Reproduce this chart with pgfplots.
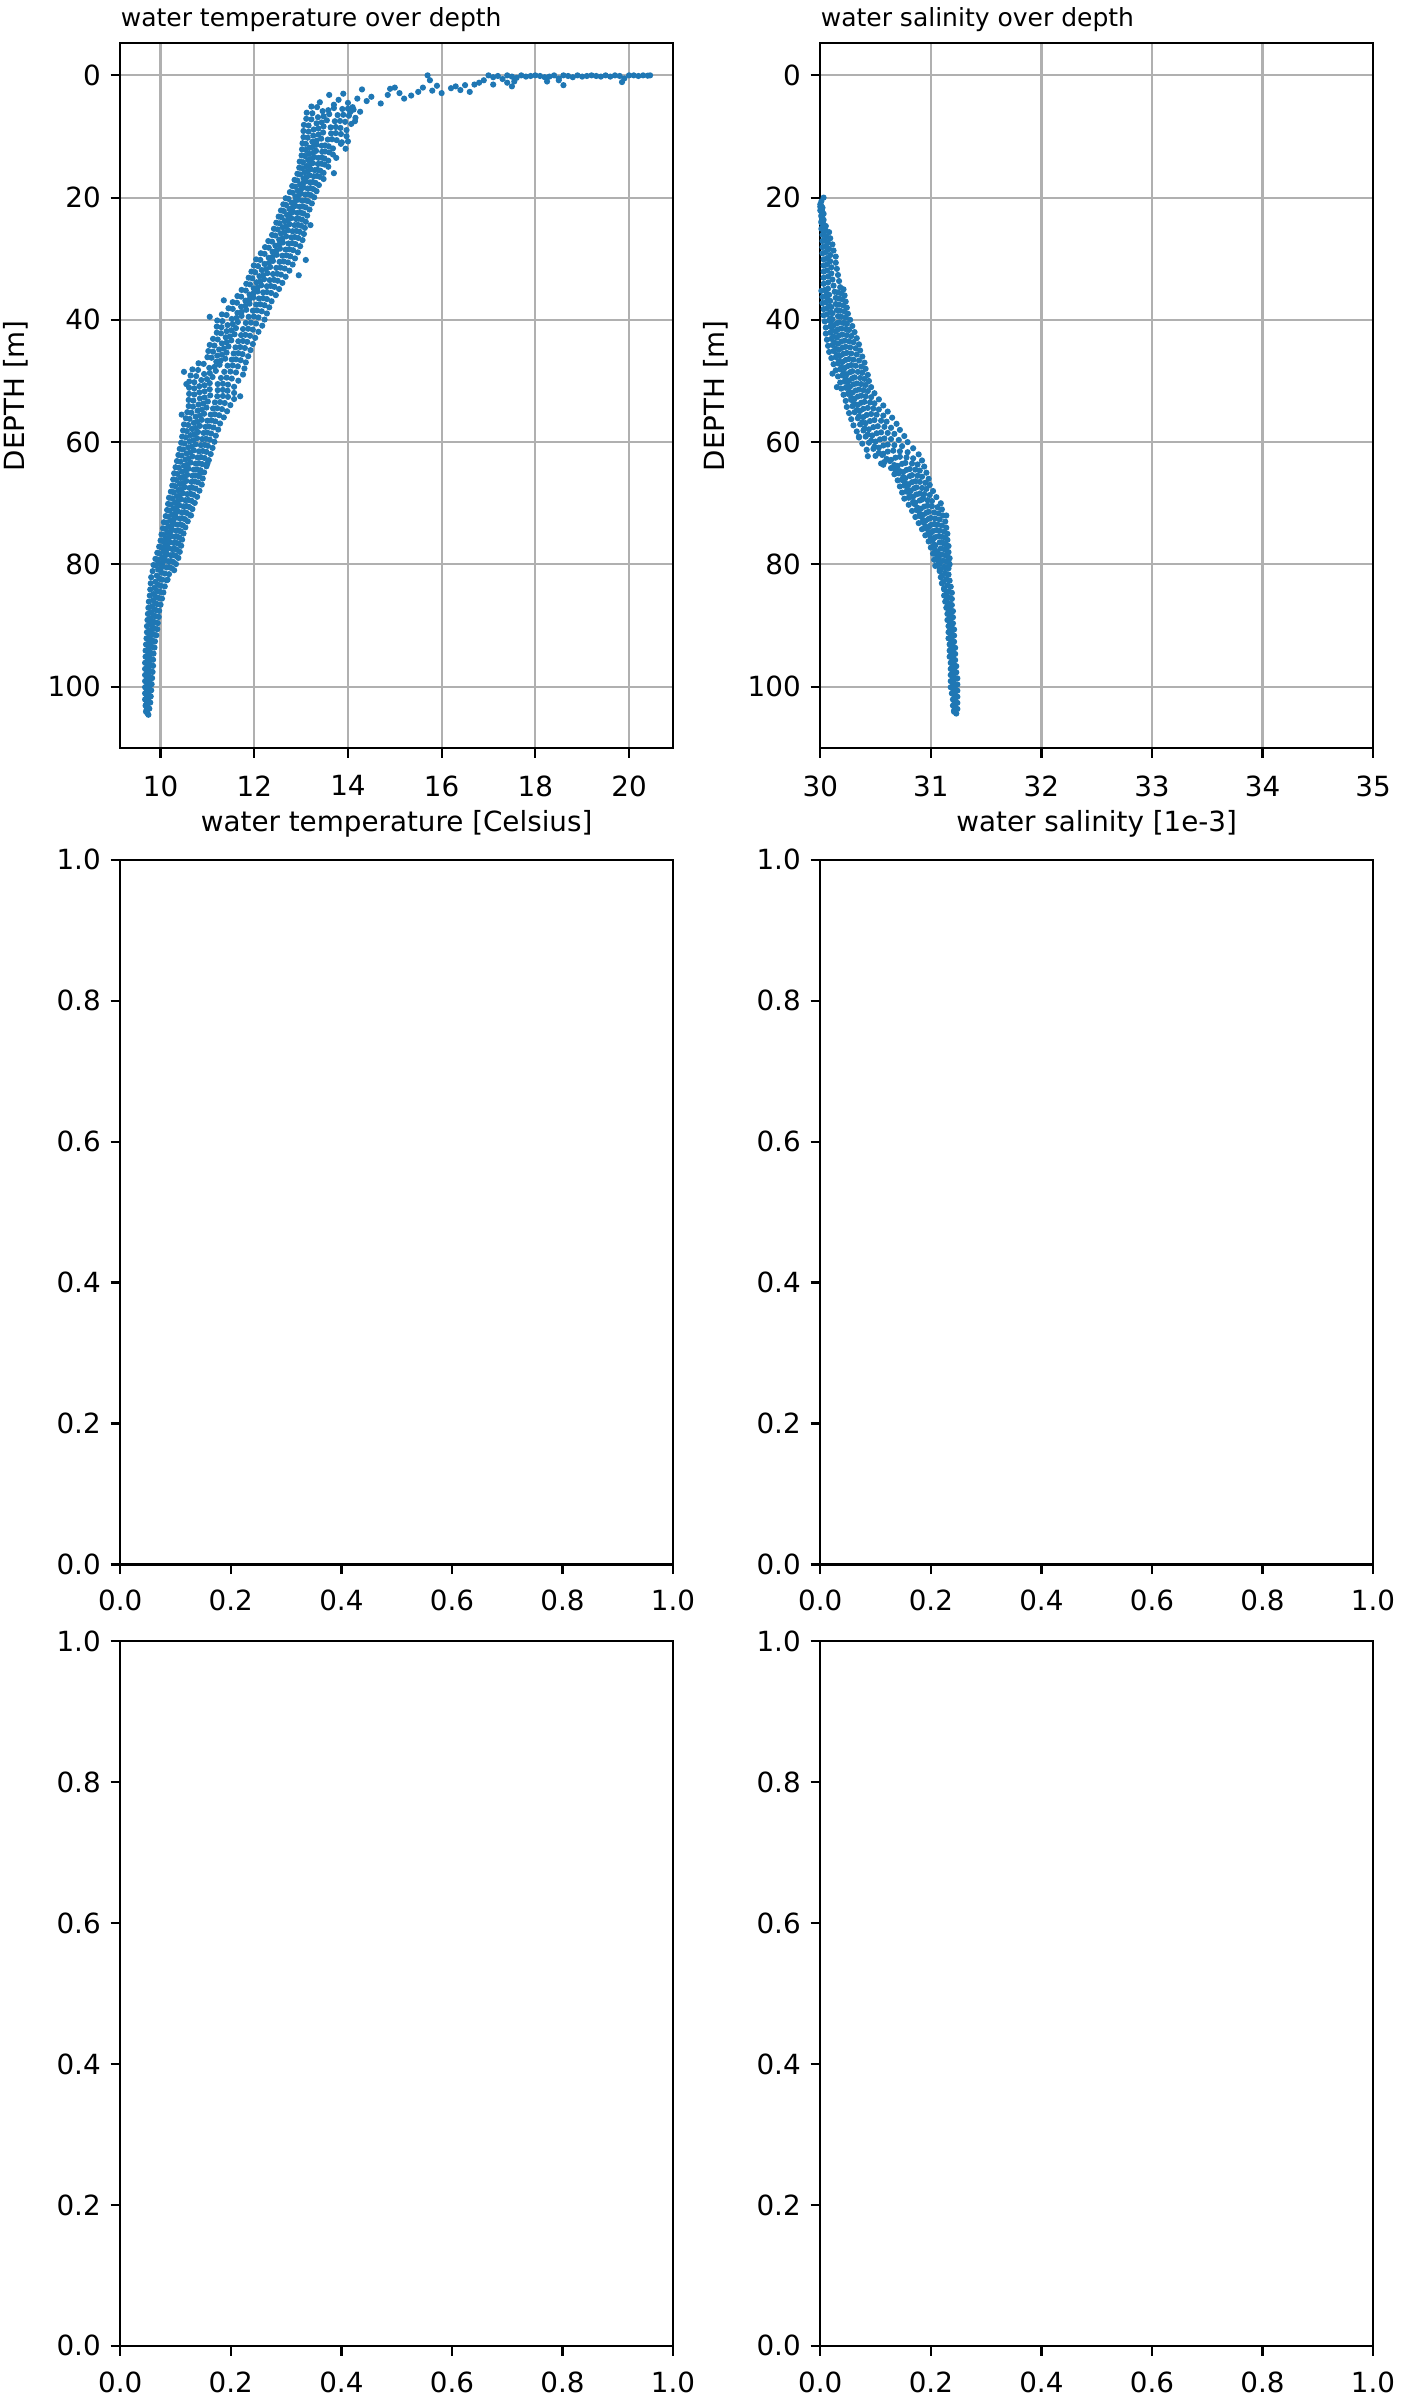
\documentclass[border=0pt]{standalone}
\usepackage{fontspec}
\setmainfont{DejaVu Sans}
\usepackage{pgfplots}
\pgfplotsset{compat=1.18}
\definecolor{mplblue}{HTML}{1F77B4}
\definecolor{gridgray}{HTML}{B0B0B0}
\pgfplotsset{
 base/.style={
  scale only axis, width=199pt, height=253.7pt,
  axis line style={line width=0.8pt, black},
  tick align=outside, tick pos=left,
  major tick length=3.5pt,
  every tick/.style={black, line width=0.8pt},
  tick label style={font=\fontsize{10}{12}\selectfont},
  label style={font=\fontsize{10}{12}\selectfont},
  /pgf/number format/assume math mode=true,
  anchor=north west,
 },
 depth/.style={base, y dir=reverse, ymin=-5.24, ymax=110.05, ytick={0,20,40,60,80,100},
  xticklabel style={yshift=-2.9pt}, xlabel style={yshift=2pt},
  grid=major, major grid style={gridgray, line width=0.8pt}, ylabel={DEPTH [m]},
  every axis title/.style={at={(0,1)}, anchor=base west, yshift=6pt, inner sep=0pt, font=\fontsize{9}{11}\selectfont}},
 empty/.style={base, xmin=0,xmax=1,ymin=0,ymax=1, xtick={0,0.2,0.4,0.6,0.8,1}, ytick={0,0.2,0.4,0.6,0.8,1},
  xticklabel style={yshift=-2.2pt},
  /pgf/number format/fixed, /pgf/number format/fixed zerofill, /pgf/number format/precision=1},
 dots/.style={only marks, color=mplblue, mark=*, mark size=0.9pt, mark options={draw=none, fill=mplblue}},
}
\begin{document}
\begin{tikzpicture}
\path[use as bounding box, fill=white] (0,0) rectangle (504pt,-864pt);
\begin{axis}[depth, at={(43.3pt,-15.6pt)}, xmin=9.14, xmax=20.94, xtick={10,12,14,16,18,20},
  xlabel={water temperature [Celsius]}, title={water temperature over depth}]
\addplot[dots] coordinates {
(17.0,0.0) (17.2,0.1) (17.4,0.0) (17.5,0.2) (17.7,0.0) (17.9,0.1) (18.0,0.0) (18.2,0.3) (18.4,0.0) (18.5,0.5) (18.7,0.1) (18.9,0.0) (19.0,0.2) (19.2,0.0) (19.3,0.1) (19.5,0.0) (19.6,0.2) (19.7,0.0) (19.9,0.5) (20.1,0.0) (20.2,0.1) (20.3,0.0) (20.4,0.05) (20.45,0.0)
(17.1,0.3) (17.3,0.6) (17.6,0.4) (17.8,0.2) (18.1,0.1) (18.3,0.2) (18.6,0.0) (18.8,0.3) (19.1,0.1) (19.4,0.2) (19.8,0.1) (20.0,0.0)
(17.4,1.2) (17.5,1.8) (17.55,1.0) (17.1,1.5) (16.9,0.8) (18.25,1.0) (18.5,0.8) (18.6,1.6) (19.85,1.1)
(15.7,0.0) (15.75,0.8) (15.8,2.5) (15.9,1.7) (16.0,2.9) (16.2,2.1) (16.4,2.4) (16.5,1.6) (16.6,2.7) (16.7,1.5) (16.8,1.2) (16.3,1.8)
(14.3,2.3) (14.5,3.5) (14.7,4.6) (14.85,3.2) (14.9,2.2) (15.0,2.0) (15.2,3.8) (15.35,3.3) (15.5,2.7) (15.6,2.0) (15.1,2.9) (14.4,4.2)
(13.6,3.2) (13.8,4.0) (14.0,4.5) (14.2,3.8) (13.9,3.0) (13.4,4.4) (14.1,5.2) (13.7,4.8)
(13.22,5.1) (13.70,5.35) (14.12,5.6) (13.46,5.85) (13.88,5.5)
(13.12,6.1) (13.60,6.35) (14.02,6.6) (13.36,6.85) (13.78,6.5)
(13.11,7.1) (13.55,7.35) (13.94,7.6) (13.33,7.85) (13.72,7.5)
(13.06,8.1) (13.48,8.35) (13.84,8.6) (13.27,8.85) (13.63,8.5)
(13.05,9.1) (13.47,9.35) (13.85,9.6) (13.26,9.85) (13.64,9.5)
(13.05,10.1) (13.43,10.35) (13.76,10.6) (13.24,10.85) (13.57,10.5)
(13.03,11.1) (13.33,11.35) (13.59,11.6) (13.18,11.85) (13.44,11.5)
(13.02,12.1) (13.32,12.35) (13.60,12.6) (13.17,12.85) (13.45,12.5)
(13.01,13.1) (13.28,13.35) (13.50,13.6) (13.15,13.85) (13.37,13.5)
(12.97,14.1) (13.25,14.35) (13.50,14.6) (13.11,14.85) (13.36,14.5)
(12.96,15.1) (13.20,15.35) (13.41,15.6) (13.08,15.85) (13.29,15.5)
(12.92,16.1) (13.18,16.35) (13.40,16.6) (13.05,16.85) (13.27,16.5)
(12.86,17.1) (13.10,17.35) (13.31,17.6) (12.98,17.85) (13.19,17.5)
(12.81,18.1) (13.05,18.35) (13.26,18.6) (12.93,18.85) (13.14,18.5)
(12.76,19.1) (13.00,19.35) (13.21,19.6) (12.88,19.85) (13.09,19.5)
(12.67,20.1) (12.93,20.35) (13.15,20.6) (12.80,20.85) (13.02,20.5)
(12.62,21.1) (12.88,21.35) (13.10,21.6) (12.75,21.85) (12.97,21.5)
(12.57,22.1) (12.83,22.35) (13.05,22.6) (12.70,22.85) (12.92,22.5)
(12.52,23.1) (12.79,23.35) (13.02,23.6) (12.65,23.85) (12.89,23.5)
(12.47,24.1) (12.75,24.35) (13.00,24.6) (12.61,24.85) (12.86,24.5)
(12.42,25.1) (12.72,25.35) (12.97,25.6) (12.57,25.85) (12.82,25.5)
(12.38,26.1) (12.68,26.35) (12.94,26.6) (12.53,26.85) (12.79,26.5)
(12.30,27.1) (12.61,27.35) (12.88,27.6) (12.45,27.85) (12.73,27.5)
(12.23,28.1) (12.55,28.35) (12.83,28.6) (12.39,28.85) (12.67,28.5)
(12.14,29.1) (12.48,29.35) (12.77,29.6) (12.31,29.85) (12.60,29.5)
(12.04,30.1) (12.40,30.35) (12.72,30.6) (12.22,30.85) (12.54,30.5)
(11.99,31.1) (12.34,31.35) (12.65,31.6) (12.16,31.85) (12.47,31.5)
(11.94,32.1) (12.28,32.35) (12.57,32.6) (12.11,32.85) (12.40,32.5)
(11.88,33.1) (12.21,33.35) (12.50,33.6) (12.05,33.85) (12.33,33.5)
(11.83,34.1) (12.15,34.35) (12.43,34.6) (11.99,34.85) (12.27,34.5)
(11.73,35.1) (12.07,35.35) (12.36,35.6) (11.90,35.85) (12.19,35.5)
(11.64,36.1) (11.98,36.35) (12.27,36.6) (11.81,36.85) (12.10,36.5)
(11.54,37.1) (11.90,37.35) (12.22,37.6) (11.72,37.85) (12.04,37.5)
(11.45,38.1) (11.83,38.35) (12.16,38.6) (11.64,38.85) (11.97,38.5)
(11.31,39.1) (11.73,39.35) (12.09,39.6) (11.52,39.85) (11.88,39.5)
(11.21,40.1) (11.65,40.35) (12.04,40.6) (11.43,40.85) (11.82,40.5)
(11.20,41.1) (11.61,41.35) (11.97,41.6) (11.41,41.85) (11.76,41.5)
(11.20,42.1) (11.58,42.35) (11.91,42.6) (11.39,42.85) (11.72,42.5)
(11.12,43.1) (11.51,43.35) (11.85,43.6) (11.31,43.85) (11.66,43.5)
(11.05,44.1) (11.45,44.35) (11.80,44.6) (11.25,44.85) (11.60,44.5)
(11.02,45.1) (11.41,45.35) (11.75,45.6) (11.21,45.85) (11.56,45.5)
(11.00,46.1) (11.38,46.35) (11.71,46.6) (11.19,46.85) (11.52,46.5)
(10.81,47.1) (11.26,47.35) (11.65,47.6) (11.04,47.85) (11.43,47.5)
(10.68,48.1) (11.18,48.35) (11.61,48.6) (10.93,48.85) (11.36,48.5)
(10.64,49.1) (11.11,49.35) (11.52,49.6) (10.87,49.85) (11.29,49.5)
(10.61,50.1) (11.05,50.35) (11.44,50.6) (10.83,50.85) (11.22,50.5)
(10.61,51.1) (11.05,51.35) (11.43,51.6) (10.83,51.85) (11.22,51.5)
(10.61,52.1) (11.06,52.35) (11.44,52.6) (10.84,52.85) (11.21,52.5)
(10.60,53.1) (11.01,53.35) (11.37,53.6) (10.81,53.85) (11.16,53.5)
(10.60,54.1) (10.98,54.35) (11.31,54.6) (10.79,54.85) (11.12,54.5)
(10.57,55.1) (10.93,55.35) (11.25,55.6) (10.75,55.85) (11.07,55.5)
(10.54,56.1) (10.88,56.35) (11.17,56.6) (10.71,56.85) (11.00,56.5)
(10.50,57.1) (10.84,57.35) (11.13,57.6) (10.67,57.85) (10.96,57.5)
(10.48,58.1) (10.80,58.35) (11.08,58.6) (10.64,58.85) (10.92,58.5)
(10.46,59.1) (10.78,59.35) (11.05,59.6) (10.62,59.85) (10.89,59.5)
(10.44,60.1) (10.75,60.35) (11.01,60.6) (10.59,60.85) (10.86,60.5)
(10.41,61.1) (10.71,61.35) (10.98,61.6) (10.56,61.85) (10.82,61.5)
(10.38,62.1) (10.68,62.35) (10.94,62.6) (10.53,62.85) (10.79,62.5)
(10.35,63.1) (10.64,63.35) (10.89,63.6) (10.50,63.85) (10.75,63.5)
(10.32,64.1) (10.60,64.35) (10.85,64.6) (10.46,64.85) (10.71,64.5)
(10.29,65.1) (10.57,65.35) (10.82,65.6) (10.43,65.85) (10.68,65.5)
(10.27,66.1) (10.55,66.35) (10.80,66.6) (10.41,66.85) (10.66,66.5)
(10.25,67.1) (10.52,67.35) (10.75,67.6) (10.38,67.85) (10.62,67.5)
(10.22,68.1) (10.48,68.35) (10.70,68.6) (10.35,68.85) (10.57,68.5)
(10.18,69.1) (10.44,69.35) (10.66,69.6) (10.31,69.85) (10.53,69.5)
(10.16,70.1) (10.40,70.35) (10.61,70.6) (10.28,70.85) (10.49,70.5)
(10.14,71.1) (10.37,71.35) (10.56,71.6) (10.25,71.85) (10.45,71.5)
(10.11,72.1) (10.33,72.35) (10.52,72.6) (10.22,72.85) (10.41,72.5)
(10.07,73.1) (10.29,73.35) (10.47,73.6) (10.18,73.85) (10.36,73.5)
(10.05,74.1) (10.25,74.35) (10.43,74.6) (10.15,74.85) (10.33,74.5)
(10.02,75.1) (10.23,75.35) (10.40,75.6) (10.12,75.85) (10.30,75.5)
(10.00,76.1) (10.20,76.35) (10.38,76.6) (10.10,76.85) (10.28,76.5)
(9.97,77.1) (10.17,77.35) (10.35,77.6) (10.07,77.85) (10.25,77.5)
(9.93,78.1) (10.14,78.35) (10.32,78.6) (10.04,78.85) (10.22,78.5)
(9.89,79.1) (10.10,79.35) (10.27,79.6) (9.99,79.85) (10.17,79.5)
(9.85,80.1) (10.05,80.35) (10.23,80.6) (9.95,80.85) (10.13,80.5)
(9.83,81.1) (10.02,81.35) (10.18,81.6) (9.92,81.85) (10.09,81.5)
(9.80,82.1) (9.98,82.35) (10.13,82.6) (9.89,82.85) (10.04,82.5)
(9.79,83.1) (9.95,83.35) (10.09,83.6) (9.87,83.85) (10.01,83.5)
(9.78,84.1) (9.93,84.35) (10.06,84.6) (9.85,84.85) (9.99,84.5)
(9.77,85.1) (9.91,85.35) (10.03,85.6) (9.84,85.85) (9.96,85.5)
(9.75,86.1) (9.89,86.35) (10.00,86.6) (9.82,86.85) (9.93,86.5)
(9.74,87.1) (9.87,87.35) (9.97,87.6) (9.80,87.85) (9.91,87.5)
(9.73,88.1) (9.85,88.35) (9.96,88.6) (9.79,88.85) (9.90,88.5)
(9.72,89.1) (9.84,89.35) (9.94,89.6) (9.78,89.85) (9.88,89.5)
(9.71,90.1) (9.83,90.35) (9.93,90.6) (9.77,90.85) (9.87,90.5)
(9.71,91.1) (9.82,91.35) (9.91,91.6) (9.76,91.85) (9.86,91.5)
(9.70,92.1) (9.80,92.35) (9.88,92.6) (9.75,92.85) (9.83,92.5)
(9.69,93.1) (9.79,93.35) (9.87,93.6) (9.74,93.85) (9.82,93.5)
(9.68,94.1) (9.77,94.35) (9.85,94.6) (9.73,94.85) (9.80,94.5)
(9.68,95.1) (9.76,95.35) (9.84,95.6) (9.72,95.85) (9.80,95.5)
(9.67,96.1) (9.76,96.35) (9.84,96.6) (9.72,96.85) (9.79,96.5)
(9.67,97.1) (9.75,97.35) (9.83,97.6) (9.71,97.85) (9.79,97.5)
(9.67,98.1) (9.75,98.35) (9.82,98.6) (9.71,98.85) (9.78,98.5)
(9.67,99.1) (9.75,99.35) (9.81,99.6) (9.71,99.85) (9.77,99.5)
(9.67,100.1) (9.74,100.35) (9.80,100.6) (9.70,100.85) (9.77,100.5)
(9.67,101.1) (9.74,101.35) (9.79,101.6) (9.70,101.85) (9.76,101.5)
(9.67,102.1) (9.74,102.35) (9.78,102.6) (9.70,102.85) (9.75,102.5)
(9.68,103.1) (9.72,103.35) (9.76,103.6) (9.70,103.85) (9.74,103.5)
(9.69,104.1) (9.72,104.35) (9.74,104.6)
(13.85,11.2) (14.0,10.8) (13.75,13.5) (13.7,16.0) (13.2,24.5) (13.1,30.2) (12.95,32.7) (11.05,39.5) (11.35,36.8) (10.5,48.5) (10.55,50.5) (11.7,52.5) (10.45,55.5) (11.0,63.5) (10.85,65.0) (10.65,72.0) (9.95,79.8) (10.15,82.5) (14.05,6.0) (14.15,7.5) (13.95,12.0)
(13.34,5.2) (13.58,5.7) (14.00,5.45) (14.26,5.95)
(13.24,6.2) (13.48,6.7) (13.90,6.45) (14.16,6.95)
(13.22,7.2) (13.44,7.7) (13.83,7.45) (14.07,7.95)
(13.16,8.2) (13.37,8.7) (13.74,8.45) (13.97,8.95)
(13.16,9.2) (13.37,9.7) (13.74,9.45) (13.97,9.95)
(13.14,10.2) (13.33,10.7) (13.66,10.45) (13.87,10.95)
(13.10,11.2) (13.25,11.7) (13.51,11.45) (13.68,11.95)
(13.10,12.2) (13.25,12.7) (13.51,12.45) (13.68,12.95)
(13.08,13.2) (13.21,13.7) (13.44,13.45) (13.58,13.95)
(13.04,14.2) (13.18,14.7) (13.43,14.45) (13.58,14.95)
(13.02,15.2) (13.14,15.7) (13.35,15.45) (13.48,15.95)
(12.98,16.2) (13.11,16.7) (13.34,16.45) (13.48,16.95)
(12.92,17.2) (13.04,17.7) (13.25,17.45) (13.38,17.95)
(12.87,18.2) (12.99,18.7) (13.20,18.45) (13.33,18.95)
(12.82,19.2) (12.94,19.7) (13.15,19.45) (13.28,19.95)
(12.73,20.2) (12.86,20.7) (13.09,20.45) (13.23,20.95)
(12.68,21.2) (12.81,21.7) (13.04,21.45) (13.18,21.95)
(12.63,22.2) (12.76,22.7) (12.99,22.45) (13.13,22.95)
(12.58,23.2) (12.72,23.7) (12.95,23.45) (13.10,23.95)
(12.54,24.2) (12.68,24.7) (12.93,24.45) (13.08,24.95)
(12.50,25.2) (12.64,25.7) (12.90,25.45) (13.06,25.95)
(12.45,26.2) (12.60,26.7) (12.86,26.45) (13.03,26.95)
(12.38,27.2) (12.53,27.7) (12.81,27.45) (12.98,27.95)
(12.31,28.2) (12.47,28.7) (12.75,28.45) (12.93,28.95)
(12.22,29.2) (12.39,29.7) (12.69,29.45) (12.87,29.95)
(12.13,30.2) (12.31,30.7) (12.63,30.45) (12.82,30.95)
(12.08,31.2) (12.25,31.7) (12.56,31.45) (12.75,31.95)
(12.02,32.2) (12.19,32.7) (12.49,32.45) (12.67,32.95)
(11.96,33.2) (12.13,33.7) (12.42,33.45) (12.60,33.95)
(11.91,34.2) (12.07,34.7) (12.35,34.45) (12.53,34.95)
(11.82,35.2) (11.98,35.7) (12.27,35.45) (12.46,35.95)
(11.72,36.2) (11.89,36.7) (12.19,36.45) (12.37,36.95)
(11.63,37.2) (11.81,37.7) (12.13,37.45) (12.32,37.95)
(11.54,38.2) (11.73,38.7) (12.06,38.45) (12.27,38.95)
(11.41,39.2) (11.62,39.7) (11.99,39.45) (12.22,39.95)
(11.32,40.2) (11.54,40.7) (11.93,40.45) (12.17,40.95)
(11.30,41.2) (11.51,41.7) (11.87,41.45) (12.09,41.95)
(11.29,42.2) (11.48,42.7) (11.81,42.45) (12.02,42.95)
(11.22,43.2) (11.41,43.7) (11.76,43.45) (11.97,43.95)
(11.15,44.2) (11.35,44.7) (11.70,44.45) (11.92,44.95)
(11.12,45.2) (11.31,45.7) (11.66,45.45) (11.87,45.95)
(11.09,46.2) (11.28,46.7) (11.61,46.45) (11.82,46.95)
(10.92,47.2) (11.15,47.7) (11.54,47.45) (11.79,47.95)
(10.80,48.2) (11.05,48.7) (11.49,48.45) (11.76,48.95)
(10.76,49.2) (10.99,49.7) (11.41,49.45) (11.66,49.95)
(10.72,50.2) (10.94,50.7) (11.33,50.45) (11.57,50.95)
(10.72,51.2) (10.94,51.7) (11.33,51.45) (11.57,51.95)
(10.72,52.2) (10.94,52.7) (11.33,52.45) (11.57,52.95)
(10.70,53.2) (10.91,53.7) (11.27,53.45) (11.49,53.95)
(10.69,54.2) (10.88,54.7) (11.21,54.45) (11.42,54.95)
(10.66,55.2) (10.84,55.7) (11.16,55.45) (11.35,55.95)
(10.62,56.2) (10.79,56.7) (11.09,56.45) (11.27,56.95)
(10.59,57.2) (10.75,57.7) (11.04,57.45) (11.23,57.95)
(10.56,58.2) (10.72,58.7) (11.00,58.45) (11.18,58.95)
(10.54,59.2) (10.70,59.7) (10.97,59.45) (11.15,59.95)
(10.51,60.2) (10.67,60.7) (10.94,60.45) (11.11,60.95)
(10.48,61.2) (10.63,61.7) (10.90,61.45) (11.07,61.95)
(10.45,62.2) (10.60,62.7) (10.86,62.45) (11.03,62.95)
(10.42,63.2) (10.57,63.7) (10.82,63.45) (10.98,63.95)
(10.39,64.2) (10.53,64.7) (10.78,64.45) (10.93,64.95)
(10.36,65.2) (10.50,65.7) (10.75,65.45) (10.90,65.95)
(10.34,66.2) (10.48,66.7) (10.73,66.45) (10.88,66.95)
(10.31,67.2) (10.45,67.7) (10.68,67.45) (10.83,67.95)
(10.28,68.2) (10.41,68.7) (10.64,68.45) (10.78,68.95)
(10.25,69.2) (10.37,69.7) (10.59,69.45) (10.73,69.95)
(10.22,70.2) (10.34,70.7) (10.55,70.45) (10.68,70.95)
(10.19,71.2) (10.31,71.7) (10.51,71.45) (10.63,71.95)
(10.16,72.2) (10.27,72.7) (10.46,72.45) (10.58,72.95)
(10.13,73.2) (10.23,73.7) (10.42,73.45) (10.53,73.95)
(10.10,74.2) (10.20,74.7) (10.38,74.45) (10.49,74.95)
(10.07,75.2) (10.17,75.7) (10.35,75.45) (10.46,75.95)
(10.05,76.2) (10.15,76.7) (10.33,76.45) (10.44,76.95)
(10.02,77.2) (10.12,77.7) (10.30,77.45) (10.41,77.95)
(9.98,78.2) (10.09,78.7) (10.27,78.45) (10.38,78.95)
(9.94,79.2) (10.04,79.7) (10.22,79.45) (10.33,79.95)
(9.90,80.2) (10.00,80.7) (10.18,80.45) (10.29,80.95)
};
\end{axis}
\begin{axis}[depth, at={(295.3pt,-15.6pt)}, xmin=30, xmax=35, xtick={30,31,32,33,34,35},
  xlabel={water salinity [1e-3]}, title={water salinity over depth}]
\addplot[dots] coordinates {
(30.03,20.0) (30.01,20.6) (30.00,21.5)
(30.00,21.1) (30.01,21.4) (30.02,21.65) (30.01,21.9)
(30.00,22.1) (30.02,22.4) (30.03,22.65) (30.01,22.9)
(30.01,23.1) (30.02,23.4) (30.03,23.65) (30.01,23.9)
(30.01,24.1) (30.03,24.4) (30.05,24.65) (30.02,24.9)
(30.01,25.1) (30.05,25.4) (30.08,25.65) (30.03,25.9)
(30.02,26.1) (30.06,26.4) (30.09,26.65) (30.04,26.9)
(30.02,27.1) (30.07,27.4) (30.11,27.65) (30.05,27.9)
(30.02,28.1) (30.08,28.4) (30.12,28.65) (30.05,28.9)
(30.02,29.1) (30.09,29.4) (30.14,29.65) (30.06,29.9)
(30.03,30.1) (30.09,30.4) (30.14,30.65) (30.06,30.9)
(30.03,31.1) (30.10,31.4) (30.15,31.65) (30.06,31.9)
(30.03,32.1) (30.10,32.4) (30.16,32.65) (30.07,32.9)
(30.03,33.1) (30.11,33.4) (30.17,33.65) (30.07,33.9)
(30.03,34.1) (30.12,34.4) (30.18,34.65) (30.07,34.9)
(30.04,35.1) (30.13,35.4) (30.19,35.65) (30.08,35.9)
(30.05,36.1) (30.14,36.4) (30.20,36.65) (30.09,36.9)
(30.05,37.1) (30.14,37.4) (30.21,37.65) (30.10,37.9)
(30.06,38.1) (30.15,38.4) (30.22,38.65) (30.11,38.9)
(30.06,39.1) (30.16,39.4) (30.23,39.65) (30.11,39.9)
(30.08,40.1) (30.17,40.4) (30.24,40.65) (30.12,40.9)
(30.09,41.1) (30.19,41.4) (30.26,41.65) (30.14,41.9)
(30.09,42.1) (30.20,42.4) (30.28,42.65) (30.15,42.9)
(30.10,43.1) (30.22,43.4) (30.30,43.65) (30.16,43.9)
(30.11,44.1) (30.23,44.4) (30.32,44.65) (30.17,44.9)
(30.12,45.1) (30.24,45.4) (30.33,45.65) (30.18,45.9)
(30.14,46.1) (30.26,46.4) (30.35,46.65) (30.20,46.9)
(30.16,47.1) (30.28,47.4) (30.37,47.65) (30.22,47.9)
(30.18,48.1) (30.29,48.4) (30.38,48.65) (30.24,48.9)
(30.20,49.1) (30.31,49.4) (30.40,49.65) (30.26,49.9)
(30.22,50.1) (30.33,50.4) (30.41,50.65) (30.27,50.9)
(30.23,51.1) (30.35,51.4) (30.43,51.65) (30.29,51.9)
(30.25,52.1) (30.37,52.4) (30.46,52.65) (30.31,52.9)
(30.28,53.1) (30.40,53.4) (30.49,53.65) (30.34,53.9)
(30.29,54.1) (30.43,54.4) (30.53,54.65) (30.36,54.9)
(30.31,55.1) (30.46,55.4) (30.57,55.65) (30.39,55.9)
(30.34,56.1) (30.49,56.4) (30.60,56.65) (30.41,56.9)
(30.36,57.1) (30.52,57.4) (30.64,57.65) (30.44,57.9)
(30.39,58.1) (30.55,58.4) (30.67,58.65) (30.47,58.9)
(30.41,59.1) (30.58,59.4) (30.71,59.65) (30.50,59.9)
(30.44,60.1) (30.61,60.4) (30.74,60.65) (30.53,60.9)
(30.48,61.1) (30.66,61.4) (30.79,61.65) (30.57,61.9)
(30.56,62.1) (30.72,62.4) (30.84,62.65) (30.64,62.9)
(30.63,63.1) (30.77,63.4) (30.88,63.65) (30.70,63.9)
(30.69,64.1) (30.81,64.4) (30.90,64.65) (30.75,64.9)
(30.71,65.1) (30.83,65.4) (30.92,65.65) (30.77,65.9)
(30.74,66.1) (30.86,66.4) (30.95,66.65) (30.80,66.9)
(30.76,67.1) (30.87,67.4) (30.96,67.65) (30.82,67.9)
(30.78,68.1) (30.90,68.4) (30.99,68.65) (30.84,68.9)
(30.80,69.1) (30.92,69.4) (31.01,69.65) (30.86,69.9)
(30.85,70.1) (30.97,70.4) (31.06,70.65) (30.91,70.9)
(30.87,71.1) (30.98,71.4) (31.07,71.65) (30.93,71.9)
(30.90,72.1) (31.00,72.4) (31.08,72.65) (30.95,72.9)
(30.93,73.1) (31.03,73.4) (31.10,73.65) (30.98,73.9)
(30.95,74.1) (31.05,74.4) (31.12,74.65) (31.00,74.9)
(30.98,75.1) (31.07,75.4) (31.13,75.65) (31.02,75.9)
(31.01,76.1) (31.08,76.4) (31.13,76.65) (31.04,76.9)
(31.03,77.1) (31.09,77.4) (31.14,77.65) (31.06,77.9)
(31.04,78.1) (31.10,78.4) (31.15,78.65) (31.07,78.9)
(31.05,79.1) (31.11,79.4) (31.16,79.65) (31.08,79.9)
(31.06,80.1) (31.12,80.4) (31.16,80.65) (31.09,80.9)
(31.08,81.1) (31.13,81.4) (31.16,81.65) (31.10,81.9)
(31.09,82.1) (31.14,82.4) (31.17,82.65) (31.11,82.9)
(31.10,83.1) (31.15,83.4) (31.18,83.65) (31.12,83.9)
(31.12,84.1) (31.16,84.4) (31.19,84.65) (31.14,84.9)
(31.12,85.1) (31.16,85.4) (31.19,85.65) (31.14,85.9)
(31.13,86.1) (31.16,86.4) (31.19,86.65) (31.15,86.9)
(31.14,87.1) (31.17,87.4) (31.20,87.65) (31.16,87.9)
(31.15,88.1) (31.18,88.4) (31.20,88.65) (31.17,88.9)
(31.15,89.1) (31.18,89.4) (31.20,89.65) (31.17,89.9)
(31.16,90.1) (31.19,90.4) (31.21,90.65) (31.17,90.9)
(31.16,91.1) (31.19,91.4) (31.21,91.65) (31.18,91.9)
(31.16,92.1) (31.19,92.4) (31.21,92.65) (31.18,92.9)
(31.17,93.1) (31.20,93.4) (31.22,93.65) (31.18,93.9)
(31.17,94.1) (31.20,94.4) (31.22,94.65) (31.18,94.9)
(31.17,95.1) (31.20,95.4) (31.22,95.65) (31.19,95.9)
(31.18,96.1) (31.21,96.4) (31.23,96.65) (31.19,96.9)
(31.18,97.1) (31.21,97.4) (31.23,97.65) (31.19,97.9)
(31.18,98.1) (31.21,98.4) (31.24,98.65) (31.20,98.9)
(31.18,99.1) (31.21,99.4) (31.24,99.65) (31.20,99.9)
(31.18,100.1) (31.22,100.4) (31.24,100.65) (31.20,100.9)
(31.19,101.1) (31.22,101.4) (31.24,101.65) (31.21,101.9)
(31.20,102.1) (31.22,102.4) (31.24,102.65) (31.21,102.9)
(31.20,103.1) (31.22,103.4) (31.24,103.65) (31.21,103.9)
(31.21,104.1) (31.23,104.4)
(30.43,62.3) (30.55,63.5) (30.57,63.7) (30.35,59.1) (30.11,48.8) (30.15,51.0) (30.93,69.2) (31.14,72.0) (30.74,66.2) (30.68,64.6)
(30.01,35.25) (30.06,35.75) (30.16,35.5) (30.21,35.0)
(30.02,36.25) (30.07,36.75) (30.17,36.5) (30.22,36.0)
(30.02,37.25) (30.08,37.75) (30.17,37.5) (30.23,37.0)
(30.03,38.25) (30.09,38.75) (30.18,38.5) (30.24,38.0)
(30.03,39.25) (30.09,39.75) (30.19,39.5) (30.25,39.0)
(30.04,40.25) (30.10,40.75) (30.21,40.5) (30.27,40.0)
(30.05,41.25) (30.11,41.75) (30.23,41.5) (30.29,41.0)
(30.05,42.25) (30.12,42.75) (30.24,42.5) (30.31,42.0)
(30.06,43.25) (30.13,43.75) (30.26,43.5) (30.33,43.0)
(30.07,44.25) (30.14,44.75) (30.27,44.5) (30.35,44.0)
(30.08,45.25) (30.15,45.75) (30.28,45.5) (30.36,45.0)
(30.10,46.25) (30.17,46.75) (30.30,46.5) (30.38,46.0)
(30.12,47.25) (30.19,47.75) (30.32,47.5) (30.40,47.0)
(30.14,48.25) (30.21,48.75) (30.34,48.5) (30.41,48.0)
(30.16,49.25) (30.23,49.75) (30.36,49.5) (30.43,49.0)
(30.18,50.25) (30.25,50.75) (30.37,50.5) (30.44,50.0)
(30.19,51.25) (30.26,51.75) (30.39,51.5) (30.46,51.0)
(30.21,52.25) (30.28,52.75) (30.41,52.5) (30.49,52.0)
(30.23,53.25) (30.31,53.75) (30.45,53.5) (30.53,53.0)
(30.24,54.25) (30.33,54.75) (30.48,54.5) (30.57,54.0)
(30.26,55.25) (30.35,55.75) (30.51,55.5) (30.61,55.0)
(30.28,56.25) (30.38,56.75) (30.55,56.5) (30.65,56.0)
(30.30,57.25) (30.40,57.75) (30.58,57.5) (30.69,57.0)
(30.33,58.25) (30.43,58.75) (30.61,58.5) (30.72,58.0)
(30.35,59.25) (30.46,59.75) (30.64,59.5) (30.76,59.0)
(30.38,60.25) (30.49,60.75) (30.67,60.5) (30.79,60.0)
(30.42,61.25) (30.53,61.75) (30.72,61.5) (30.84,61.0)
(30.50,62.25) (30.60,62.75) (30.78,62.5) (30.89,62.0)
(30.58,63.25) (30.67,63.75) (30.83,63.5) (30.92,63.0)
(30.64,64.25) (30.72,64.75) (30.86,64.5) (30.94,64.0)
(30.67,65.25) (30.75,65.75) (30.88,65.5) (30.96,65.0)
(30.70,66.25) (30.77,66.75) (30.90,66.5) (30.98,66.0)
(30.72,67.25) (30.79,67.75) (30.92,67.5) (30.99,67.0)
(30.74,68.25) (30.81,68.75) (30.94,68.5) (31.02,68.0)
(30.76,69.25) (30.84,69.75) (30.97,69.5) (31.05,69.0)
(30.80,70.25) (30.88,70.75) (31.01,70.5) (31.09,70.0)
(30.83,71.25) (30.90,71.75) (31.03,71.5) (31.10,71.0)
(30.86,72.25) (30.93,72.75) (31.04,72.5) (31.11,72.0)
(30.89,73.25) (30.95,73.75) (31.06,73.5) (31.13,73.0)
(30.92,74.25) (30.98,74.75) (31.08,74.5) (31.14,74.0)
(30.95,75.25) (31.00,75.75) (31.10,75.5) (31.15,75.0)
(30.98,76.25) (31.03,76.75) (31.11,76.5) (31.15,76.0)
(31.00,77.25) (31.04,77.75) (31.12,77.5) (31.16,77.0)
(31.02,78.25) (31.06,78.75) (31.13,78.5) (31.16,78.0)
(31.03,79.25) (31.07,79.75) (31.14,79.5) (31.17,79.0)
(31.04,80.25) (31.08,80.75) (31.14,80.5) (31.17,80.0)
(30.15,40.55) (30.16,41.55) (30.17,42.55) (30.19,43.55) (30.20,44.55) (30.21,45.55) (30.23,46.55) (30.25,47.55)
(30.27,48.55) (30.29,49.55) (30.30,50.55) (30.32,51.55) (30.34,52.55) (30.37,53.55) (30.39,54.55) (30.42,55.55)
(30.45,56.55) (30.48,57.55) (30.51,58.55) (30.54,59.55) (30.57,60.55) (30.61,61.55) (30.68,62.55) (30.74,63.55)
(30.78,64.55) (30.81,65.55) (30.83,66.55) (30.85,67.55) (30.87,68.55) (30.90,69.55) (30.94,70.55) (30.96,71.55)
(30.98,72.55) (31.00,73.55) (31.02,74.55) (31.04,75.55)
};
\end{axis}
\begin{axis}[empty, at={(43.3pt,-309.5pt)}]
\end{axis}
\begin{axis}[empty, at={(295.3pt,-309.5pt)}]
\end{axis}
\begin{axis}[empty, at={(43.3pt,-590.8pt)}]
\end{axis}
\begin{axis}[empty, at={(295.3pt,-590.8pt)}]
\end{axis}
\end{tikzpicture}
\end{document}
